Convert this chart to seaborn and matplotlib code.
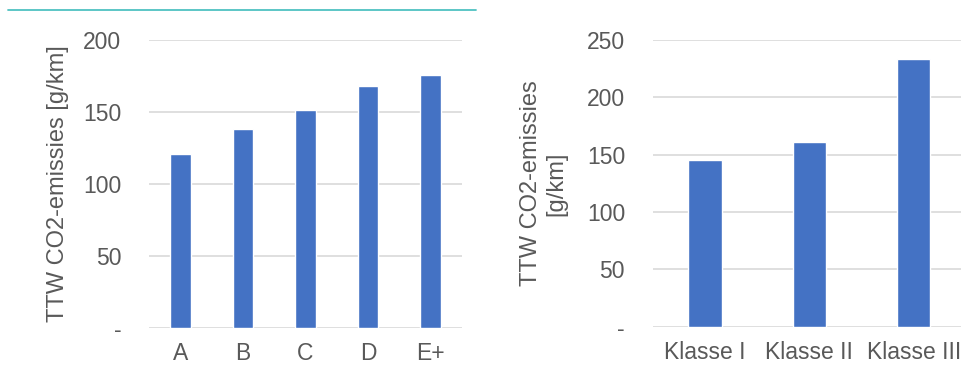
import matplotlib
matplotlib.use("Agg")
import matplotlib.pyplot as plt
from matplotlib.lines import Line2D
import pandas as pd
import seaborn as sns

# Energy-label classes and their tank-to-wheel CO2 emissions
label_classes = ["A", "B", "C", "D", "E+"]
label_emissions = [121, 138, 151, 168, 176]

# Weight classes and their tank-to-wheel CO2 emissions
weight_classes = ["Klasse I", "Klasse II", "Klasse III"]
weight_emissions = [145, 161, 233]

left_ticks = [0, 50, 100, 150, 200]
right_ticks = [0, 50, 100, 150, 200, 250]

BAR = "#4472C4"
GRID = "#D9D9D9"
TEXT = "#595959"

sns.set_theme(style="white")
plt.rcParams["font.family"] = ["Liberation Sans", "DejaVu Sans"]

W, H = 962, 365
fig = plt.figure(figsize=(W / 100, H / 100), dpi=100)


def px_axes(x0, x1, ytop, ybot):
    return fig.add_axes([x0 / W, (H - ybot) / H, (x1 - x0) / W, (ybot - ytop) / H])


def style(ax, ticks, ylabel, labelpad):
    ax.set_ylim(ticks[0], ticks[-1])
    ax.set_yticks(ticks)
    ax.set_yticklabels(["-" if t == 0 else str(t) for t in ticks])
    ax.yaxis.grid(True, color=GRID, linewidth=1.2)
    ax.xaxis.grid(False)
    ax.set_axisbelow(True)
    for s in ax.spines.values():
        s.set_visible(False)
    ax.tick_params(axis="y", length=0, pad=20, labelsize=16.5, labelcolor=TEXT)
    ax.tick_params(axis="x", length=0, pad=10.5, labelsize=16.5, labelcolor=TEXT)
    ax.set_xlabel("")
    ax.set_ylabel(ylabel, fontsize=17, color=TEXT, labelpad=labelpad,
                  linespacing=1.2)


df_left = pd.DataFrame({"klasse": label_classes, "emissie": label_emissions})
ax1 = px_axes(149, 462, 40, 327.7)
sns.barplot(data=df_left, x="klasse", y="emissie", color=BAR, width=0.33,
            saturation=1, ax=ax1)
style(ax1, left_ticks, "TTW CO2-emissies [g/km]", 10)

df_right = pd.DataFrame({"klasse": weight_classes, "emissie": weight_emissions})
ax2 = px_axes(652.8, 965.8, 40, 326.7)
sns.barplot(data=df_right, x="klasse", y="emissie", color=BAR, width=0.32,
            saturation=1, ax=ax2)
style(ax2, right_ticks, "TTW CO2-emissies\n[g/km]", 14)

# Thin accent rule across the top of the left chart
fig.add_artist(Line2D([8 / W, 476 / W], [(H - 10) / H] * 2,
                      color="#4FC1C1", linewidth=1.3))

fig.savefig("out.png", dpi=100)
